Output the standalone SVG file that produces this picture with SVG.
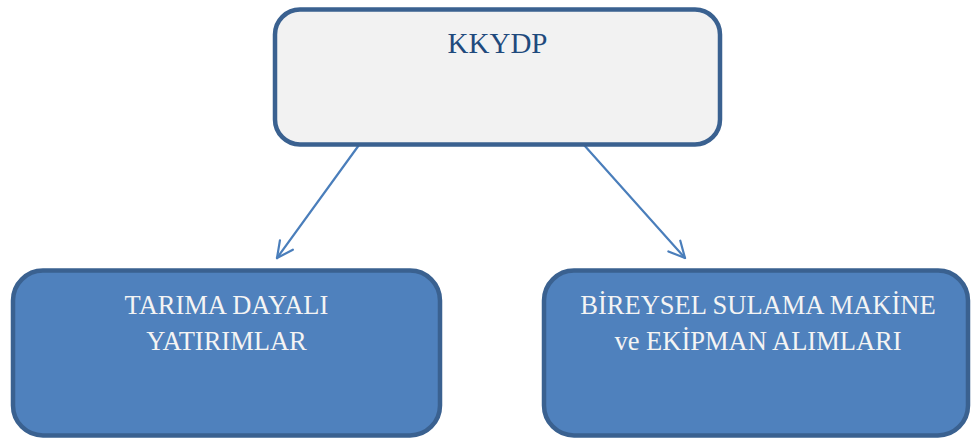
<svg xmlns="http://www.w3.org/2000/svg" width="971" height="440" viewBox="0 0 971 440">
<style>
.box{stroke:#3a6190;stroke-width:4.5}
.top{fill:#f2f2f2}
.bot{fill:#4f81bd}
.t{font-family:'Liberation Serif','Times New Roman','DejaVu Serif',serif;text-anchor:middle}
.dark{fill:#1f4a7d;font-size:29px}
.light{fill:#f4f4f4;font-size:26.5px}
.conn{stroke:#4a7ebb;stroke-width:2.2;fill:none;stroke-linecap:round}
</style>
<defs>
<marker id="arr" viewBox="0 0 20 20" refX="18" refY="10" markerWidth="20" markerHeight="20" markerUnits="userSpaceOnUse" orient="auto">
<path d="M2,2 L18,10 L2,18" fill="none" stroke="#4a7ebb" stroke-width="2.2" stroke-linecap="round" stroke-linejoin="round"/>
</marker>
</defs>
<g id="connectors">
<line class="conn" x1="359" y1="145" x2="277" y2="258" marker-end="url(#arr)"/>
<line class="conn" x1="584" y1="145" x2="685" y2="258" marker-end="url(#arr)"/>
</g>
<g id="kkydp">
<rect class="box top" x="275" y="9.5" width="445" height="135" rx="25"/>
<text class="t dark" x="497.5" y="53" font-family="Liberation Serif, serif">KKYDP</text>
</g>
<g id="tarima">
<rect class="box bot" x="13" y="270.5" width="427" height="165" rx="30"/>
<text class="t light" x="226.5" y="314" font-family="Liberation Serif, serif">TARIMA DAYALI</text>
<text class="t light" x="226.5" y="350" font-family="Liberation Serif, serif">YATIRIMLAR</text>
</g>
<g id="bireysel">
<rect class="box bot" x="544" y="270.5" width="424" height="165" rx="30"/>
<text class="t light" x="758" y="314" font-family="Liberation Serif, serif">BİREYSEL SULAMA MAKİNE</text>
<text class="t light" x="758" y="350" font-family="Liberation Serif, serif">ve EKİPMAN ALIMLARI</text>
</g>
</svg>
